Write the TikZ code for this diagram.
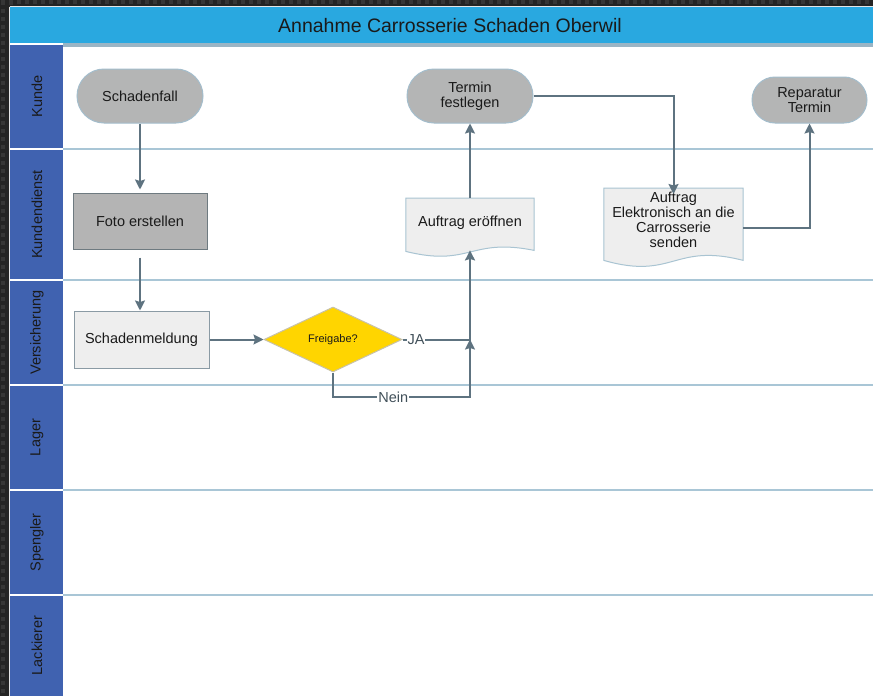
\documentclass[tikz,border=0pt]{standalone}
\usepackage{fontspec}
\setmainfont{Liberation Sans}
\usetikzlibrary{arrows.meta,calc,shapes.geometric,shapes.misc}
\pgfdeclarelayer{back}
\pgfdeclarelayer{docs}
\pgfsetlayers{back,docs,main}
\definecolor{bgdark}{HTML}{242424}
\definecolor{bgdot}{HTML}{363636}
\definecolor{titleblue}{HTML}{29A8E0}
\definecolor{lanelabel}{HTML}{4062B0}
\definecolor{laneline}{HTML}{A9C6D6}
\definecolor{connector}{HTML}{5E7380}
\definecolor{termgray}{HTML}{B4B5B5}
\definecolor{termborder}{HTML}{A3BDCC}
\definecolor{procgray}{HTML}{B4B4B4}
\definecolor{procborder}{HTML}{6E7A80}
\definecolor{lightfill}{HTML}{EEEEEE}
\definecolor{lightborder}{HTML}{8A9AA4}
\definecolor{docborder}{HTML}{A9C4D2}
\definecolor{decfill}{HTML}{FFD500}
\definecolor{decborder}{HTML}{C8C2A8}
\definecolor{txt}{HTML}{1A1A1A}
\tikzset{
  nodetext/.style={font=\fontsize{14.5}{15}\selectfont, text=txt, align=center},
  termbox/.style={nodetext, draw=termborder, fill=termgray, line width=1pt, inner sep=0pt},
  procbox/.style={nodetext, draw=procborder, fill=procgray, line width=1pt, inner sep=0pt},
  lightbox/.style={nodetext, draw=lightborder, fill=lightfill, line width=1pt, inner sep=0pt},
  docnode/.style={nodetext, inner sep=0pt},
  docshape/.style={draw=docborder, fill=lightfill, line width=1pt},
  decision/.style={shape=diamond, draw=decborder, fill=decfill, line width=1pt, inner sep=0pt,
     font=\fontsize{11}{12}\selectfont, text=txt},
  conn/.style={draw=connector, line width=2pt},
  arr/.style={conn, -{Stealth[length=10pt,width=10pt,inset=1.5pt]}},
  lbl/.style={font=\fontsize{14.5}{15}\selectfont, text=connector!70!black, fill=white, inner sep=1pt},
  lanetext/.style={font=\fontsize{14.5}{15}\selectfont, text=txt, rotate=90}
}
\begin{document}
\begin{tikzpicture}[x=1pt,y=-1pt]
\useasboundingbox (0,0) rectangle (873,696);
\begin{pgfonlayer}{back}
% dark carbon background
\fill[bgdark] (0,0) rectangle (873,696);
\foreach \yy in {0,8,...,696} {
  \foreach \xx in {0,8} {
    \fill[bgdot] (\xx+1,\yy+1) rectangle (\xx+5,\yy+5);
  }
}
\foreach \xx in {0,8,...,873} {
  \fill[bgdot] (\xx+1,0) rectangle (\xx+5,4);
}
% white panel
\fill[white] (10,44) rectangle (873,696);
\draw[white!80!gray, line width=1pt] (9.5,6.5) -- (873,6.5);
\draw[white!80!gray, line width=1pt] (9.5,6.5) -- (9.5,696);
\end{pgfonlayer}
% title bar
\node[fill=titleblue, minimum width=863pt, minimum height=36pt, anchor=north west, inner sep=0pt] (title) at (10,7) {};
\node[font=\fontsize{19.5}{20}\selectfont, text=txt] (titletext) at (450,26) {Annahme Carrosserie Schaden Oberwil};
\fill[laneline!80!connector] (63,43) rectangle (873,47);
% lane labels
\foreach \ya/\yb/\nm/\lab in {44/149/l1/Kunde, 149/280/l2/Kundendienst, 280/385/l3/Versicherung, 385/490/l4/Lager, 490/595/l5/Spengler, 595/696/l6/Lackierer} {
  \fill[lanelabel] (10,\ya) rectangle (63,\yb);
  \node[lanetext] (\nm) at (37,{(\ya+\yb)/2}) {\lab};
}
\foreach \yy in {149,280,385,490,595} {
  \draw[white, line width=1.5pt] (10,\yy) -- (63,\yy);
  \draw[laneline, line width=1.2pt] (63,\yy) -- (873,\yy);
}
\draw[white, line width=1.5pt] (10,44) -- (63,44);

% nodes
\node[termbox, minimum width=126pt, minimum height=54pt, rounded corners=27pt] (schaden) at (140,96) {Schadenfall};
\node[procbox, minimum width=134pt, minimum height=56pt] (foto) at (140,221) {Foto erstellen};
\node[lightbox, minimum width=135pt, minimum height=57pt] (meldung) at (141.5,339.5) {Schadenmeldung};
\node[decision, minimum width=138pt, minimum height=65pt, aspect=2.1] (frei) at (333,339.5) {Freigabe?};
\node[termbox, minimum width=126pt, minimum height=54pt, rounded corners=27pt] (termin) at (470,96) {Termin\\festlegen};
\node[termbox, minimum width=115pt, minimum height=46pt, rounded corners=23pt] (rep) at (809.5,100) {Reparatur\\Termin};

% document nodes
\node[docnode, minimum width=128pt, minimum height=50pt, anchor=north] (eroeff) at (470,198) {Auftrag eröffnen};
\node[docnode, minimum width=139pt, minimum height=64pt, anchor=north] (elektro) at (673.5,188) {Auftrag\\Elektronisch an die\\Carrosserie\\senden};
\begin{pgfonlayer}{docs}
  \draw[docshape] ($(eroeff.south west)+(0,3)$) -- (eroeff.north west) -- (eroeff.north east) -- ($(eroeff.south east)+(0,2)$)
     .. controls ($(eroeff.south)+(0,-11)$) and ($(eroeff.south)+(0,19)$) .. cycle;
  \draw[docshape] ($(elektro.south west)+(0,8)$) -- (elektro.north west) -- (elektro.north east) -- ($(elektro.south east)+(0,8)$)
     .. controls ($(elektro.south)+(0,-10)$) and ($(elektro.south)+(0,28)$) .. cycle;
\end{pgfonlayer}

% connectors
\draw[arr] (schaden.south) -- ([yshift=3pt]foto.north);
\draw[arr] ([yshift=-8pt]foto.south) -- (foto.south |- meldung.north);
\draw[arr] (meldung.east) -- (frei.west);
\coordinate (ja) at (470,339.5);
\draw[conn] (frei.east) -- node[lbl, pos=0.2] {JA} (ja);
\draw[arr] ([yshift=-7pt]ja) -- (ja);
\draw[arr] (frei.south) |- (470,397) node[lbl, pos=0.72] {Nein} -- ([yshift=-2pt]eroeff.south);
\draw[arr] (eroeff.north) -- (termin.south);
\draw[arr] (termin.east) -| ([yshift=-6pt]elektro.north);
\draw[arr] ([yshift=-8pt]elektro.east) -| (rep.south);
\end{tikzpicture}
\end{document}
